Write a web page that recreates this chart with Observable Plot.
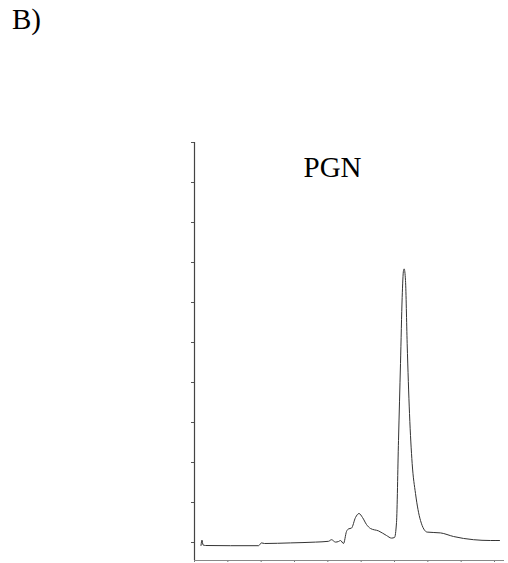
<!DOCTYPE html>
<html>
<head>
<meta charset="utf-8">
<script src="https://cdn.jsdelivr.net/npm/d3@7"></script>
<script src="https://cdn.jsdelivr.net/npm/@observablehq/plot@0.6"></script>
<style>
  html, body { margin: 0; padding: 0; background: #fff; }
  #wrap { position: relative; width: 508px; height: 563px; }
  #panel { position: absolute; left: 12px; top: 3px; font-family: "Liberation Serif", "Times New Roman", serif; font-size: 29px; color: #000; }
  #chart { position: absolute; left: 0; top: 0; }
</style>
</head>
<body>
<div id="wrap">
  <div id="chart"></div>
  <div id="panel">B)</div>
</div>
<script>
const title = "PGN";
// retention (arbitrary units, 9 ticks) and detector response (arbitrary units)
const time = [0.195, 0.225, 0.255, 0.33, 1.08, 1.92, 2.01, 2.1, 2.88, 3.63, 4.02, 4.11, 4.23, 4.32, 4.38, 4.47, 4.56, 4.62, 4.71, 4.83, 4.935, 5.04, 5.16, 5.28, 5.52, 5.76, 5.91, 6.0, 6.06, 6.12, 6.18, 6.23, 6.27, 6.29, 6.33, 6.38, 6.45, 6.53, 6.63, 6.78, 6.98, 7.38, 7.77, 8.37, 8.88, 9.15];
const signal = [-0.075, 0.06, -0.06, -0.075, -0.08, -0.08, -0.01, -0.025, -0.01, 0.01, 0.03, 0.07, 0.01, 0.025, 0.05, -0.025, 0.275, 0.34, 0.36, 0.625, 0.725, 0.625, 0.45, 0.35, 0.29, 0.175, 0.11, 0.125, 0.5, 2.55, 4.475, 6.125, 6.8, 6.84, 6.55, 4.975, 3.225, 1.975, 1.225, 0.55, 0.26, 0.24, 0.15, 0.07, 0.05, 0.05];
const xTicks = [0, 1, 2, 3, 4, 5, 6, 7, 8, 9];
const yTicks = [0, 1, 2, 3, 4, 5, 6, 7, 8, 9, 10];

const data = time.map((t, i) => ({t, v: signal[i]}));
const xDomain = [0, 9.3];
const yDomain = [-0.45, 10];

const chart = Plot.plot({
  width: 508,
  height: 563,
  marginLeft: 194,
  marginRight: 4,
  marginTop: 142,
  marginBottom: 3,
  style: {background: "transparent", fontFamily: "Liberation Serif, serif"},
  x: {domain: xDomain, axis: null, label: null},
  y: {domain: yDomain, axis: null, label: null},
  marks: [
    Plot.axisY({ticks: yTicks, tickSize: 3, tickFormat: () => "", label: null, stroke: "#555"}),
    Plot.axisX({ticks: xTicks, tickSize: 2, tickFormat: () => "", label: null, stroke: "#777"}),
    Plot.ruleX([xDomain[0]], {y1: yDomain[0], y2: yDomain[1], stroke: "#444", strokeWidth: 1.2}),
    Plot.ruleY([yDomain[0]], {x1: xDomain[0], x2: xDomain[1], stroke: "#888", strokeWidth: 1}),
    Plot.line(data, {x: "t", y: "v", stroke: "#333", strokeWidth: 1, curve: "monotone-x"}),
    Plot.text([title], {text: d => d, frameAnchor: "top", lineAnchor: "top", dx: -17, dy: 14, fontSize: 29, fill: "#000", fontFamily: "Liberation Serif, serif"})
  ]
});
document.getElementById("chart").appendChild(chart);
</script>
</body>
</html>
